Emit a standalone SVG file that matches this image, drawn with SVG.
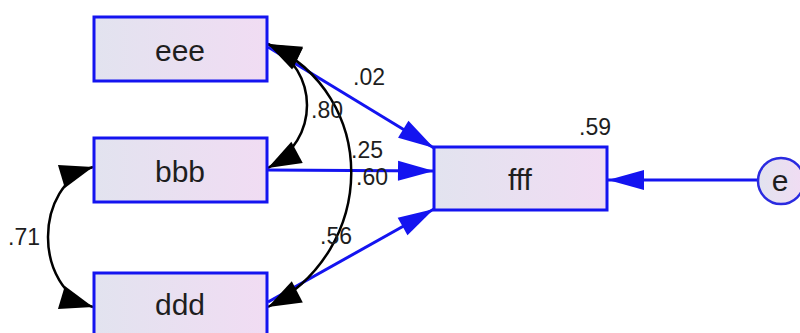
<svg xmlns="http://www.w3.org/2000/svg" width="800" height="333" viewBox="0 0 800 333">
  <defs>
    <linearGradient id="boxfill" x1="0" y1="0" x2="1" y2="0">
      <stop offset="0" stop-color="#e2e3ef"/>
      <stop offset="1" stop-color="#f1dcf3"/>
    </linearGradient>
    <marker id="bluehead" markerUnits="userSpaceOnUse" markerWidth="40" markerHeight="24" viewBox="-38 -12 40 24" refX="0" refY="0" orient="auto">
      <path d="M0,0 L-36,-10 L-36,10 z" fill="#1414f0"/>
    </marker>
    <marker id="blackhead" markerUnits="userSpaceOnUse" markerWidth="40" markerHeight="30" viewBox="-38 -15 40 30" refX="0" refY="0" orient="auto-start-reverse">
      <path d="M0,0 L-33,-12 L-33,12 z" fill="#000"/>
    </marker>
  </defs>
  <style>
    .box { fill: url(#boxfill); stroke: #1414f0; stroke-width: 3; }
    .lbl { font-family: "Liberation Sans", Arial, sans-serif; font-size: 30px; fill: #1e1e1e; text-anchor: middle; }
    .num { font-family: "Liberation Sans", Arial, sans-serif; font-size: 23px; fill: #1e1e1e; }
    .path { stroke: #1414f0; stroke-width: 3; fill: none; marker-end: url(#bluehead); }
    .cov { stroke: #000; stroke-width: 2.5; fill: none; marker-start: url(#blackhead); marker-end: url(#blackhead); }
  </style>
  <rect width="800" height="333" fill="#fff"/>
  <g id="connectors">
    <path class="path" d="M268,47 L434,148"/>
    <path class="path" d="M268,170 L434,171"/>
    <path class="path" d="M268,302 L434,209"/>
    <path class="path" d="M758,180 L608,180"/>
    <path class="cov" d="M268,44 C320,70 320,140 268,168"/>
    <path class="cov" d="M268,44 C380,95 378,250 268,307"/>
    <path class="cov" d="M93,167 C33,185 33,289 93,307"/>
    <text class="num" x="353" y="85">.02</text>
    <text class="num" x="311" y="118">.80</text>
    <text class="num" x="351" y="158">.25</text>
    <text class="num" x="356" y="185">.60</text>
    <text class="num" x="320" y="244">.56</text>
    <text class="num" x="8" y="245">.71</text>
  </g>
  <g id="eee">
    <rect class="box" x="94" y="17" width="173" height="64"/>
    <text class="lbl" x="180" y="61">eee</text>
  </g>
  <g id="bbb">
    <rect class="box" x="94" y="138" width="173" height="64"/>
    <text class="lbl" x="180" y="182">bbb</text>
  </g>
  <g id="ddd">
    <rect class="box" x="94" y="273" width="173" height="64"/>
    <text class="lbl" x="180" y="315">ddd</text>
  </g>
  <g id="fff">
    <rect class="box" x="434" y="147" width="173" height="63"/>
    <text class="lbl" x="520" y="190">fff</text>
    <text class="num" x="579" y="135">.59</text>
  </g>
  <g id="e">
    <circle cx="781" cy="181" r="23" fill="url(#boxfill)" stroke="#2a2ae0" stroke-width="2.5"/>
    <text class="lbl" x="780" y="191">e</text>
  </g>
</svg>
